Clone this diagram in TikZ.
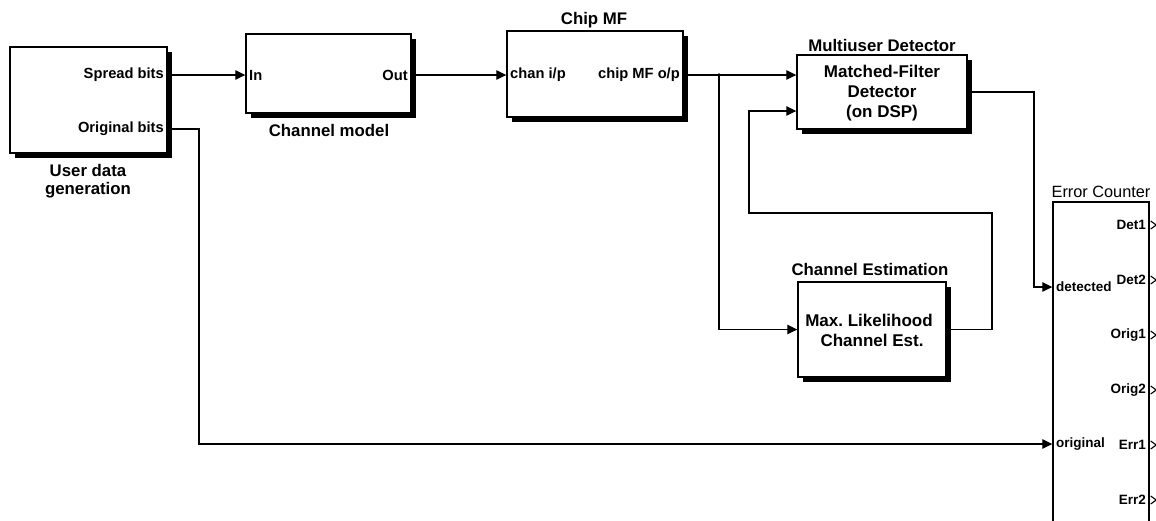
\documentclass[tikz,border=0pt]{standalone}
\usepackage{fontspec}
\setmainfont{Liberation Sans}
\usetikzlibrary{arrows.meta,shadows,calc}
\frenchspacing
\begin{document}
\begin{tikzpicture}[x=1pt,y=-1pt,
  blk/.style={draw, line width=1.4pt, fill=white, inner sep=0pt,
    drop shadow={shadow xshift=5pt, shadow yshift=-5pt, fill=black, opacity=1}},
  plainblk/.style={draw, line width=1.4pt, fill=white, inner sep=0pt},
  ttl/.style={font=\bfseries\fontsize{16.8}{17.5}\selectfont, inner sep=0pt, align=center},
  inn/.style={font=\bfseries\fontsize{17}{20}\selectfont, inner sep=0pt, align=center},
  prt/.style={font=\bfseries\fontsize{14.7}{16}\selectfont, inner sep=0pt},
  ecp/.style={font=\bfseries\fontsize{13.5}{15}\selectfont, inner sep=0pt},
  arr/.style={line width=1.3pt, -{Triangle[length=10pt,width=9.5pt]}},
  outtip/.style={line width=1.1pt}
]
\useasboundingbox (0,0) rectangle (1156,520);
\clip (0,0) rectangle (1156,520);

% blocks
\node[blk, minimum width=157pt, minimum height=106pt] (ud) at (88.5,100) {};
\node[blk, minimum width=165pt, minimum height=79pt] (cm) at (328.5,73.5) {};
\node[blk, minimum width=176pt, minimum height=86pt] (mf) at (595,74) {};
\node[blk, minimum width=170pt, minimum height=74pt] (det) at (882,92) {};
\node[blk, minimum width=148pt, minimum height=95pt] (ce) at (872,329.5) {};
\node[plainblk, minimum width=96pt, minimum height=328pt] (ec) at (1101,366) {};

% titles
\node[ttl] (udt) at (88,181) {User data\\generation};
\node[ttl] (cmt) at (329,130) {Channel model};
\node[ttl] (mft) at (594,20) {Chip MF};
\node[ttl] (dett) at (882,45) {Multiuser Detector};
\node[ttl] (cet) at (870,269) {Channel Estimation};
\node[font=\fontsize{16.3}{18}\selectfont, inner sep=0pt] (ect) at (1101,192) {Error Counter};

% inner texts
\node[inn] (detx) at (882,93) {Matched-Filter\\Detector\\(on DSP)};
\node[inn] (cex) at (869,330) {Max. Likelihood\\\hspace*{6pt}Channel Est.};

% port labels
\node[prt, anchor=east] (spr) at (164,75) {Spread bits};
\node[prt, anchor=east] (orb) at (164,129) {Original bits};
\node[prt, anchor=west] (inl) at (249,75) {In};
\node[prt, anchor=east] (outl) at (408,75) {Out};
\node[prt, anchor=west] (cil) at (510,75) {chan i/p};
\node[prt, anchor=east] (col) at (680,75) {chip MF o/p};

\node[ecp, anchor=west] (detl) at (1056,287) {detected};
\node[ecp, anchor=west] (orl) at (1056,444) {original};
\node[ecp, anchor=east] (o1) at (1146,225) {Det1};
\node[ecp, anchor=east] (o2) at (1146,280) {Det2};
\node[ecp, anchor=east] (o3) at (1146,335) {Orig1};
\node[ecp, anchor=east] (o4) at (1146,390) {Orig2};
\node[ecp, anchor=east] (o5) at (1146,445) {Err1};
\node[ecp, anchor=east] (o6) at (1146,500) {Err2};

% output tips of error counter
\foreach \n in {o1,o2,o3,o4,o5,o6}{
  \draw[outtip] ($(ec.east |- \n)+(1,-4)$) -- ($(ec.east |- \n)+(6.5,0)$) -- ($(ec.east |- \n)+(1,4)$);
}

% helper coordinates
\coordinate (j) at (719,75);
\coordinate (fbr) at (992,213);
\coordinate (fbl) at (749,213);
\coordinate (d2y) at (0,111);
\coordinate (dv) at (1034,92);
\coordinate (ov) at (199,129);

% connectors
\draw[arr] (ud.east |- spr) -- (cm.west |- spr);
\draw[arr] (cm.east |- outl) -- (mf.west |- outl);
\draw[arr] (mf.east |- col) -- (det.west |- col);
\draw[arr] (j) |- (ce.west);
\fill (j) circle (1.8pt);
\draw[arr] (ce.east) -| (fbr) -- (fbl) |- (det.west |- d2y);
\draw[arr] (det.east) -- (dv) |- (ec.west |- detl);
\draw[arr] (ud.east |- orb) -- (ov) |- (ec.west |- orl);
\end{tikzpicture}
\end{document}
